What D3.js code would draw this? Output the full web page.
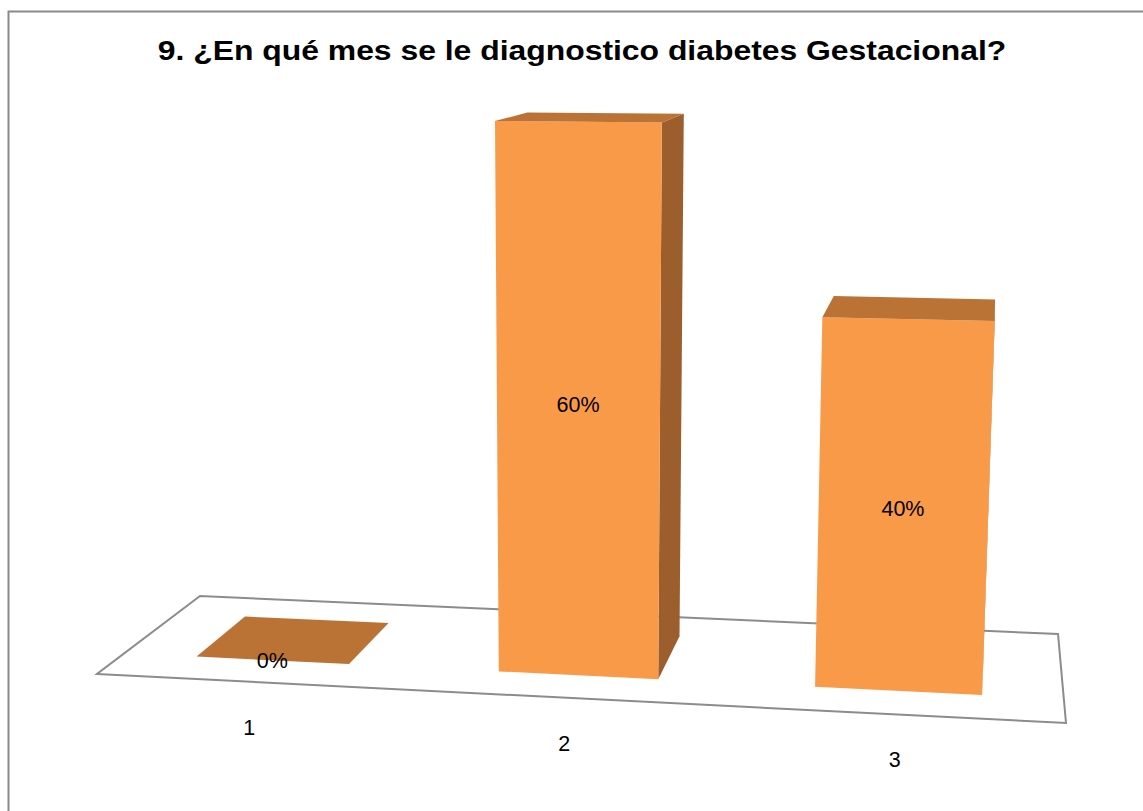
<!DOCTYPE html>
<html>
<head>
<meta charset="utf-8">
<script src="https://cdn.jsdelivr.net/npm/d3@7"></script>
<style>
  html, body { margin: 0; padding: 0; background: #fff; }
  svg { display: block; }
</style>
</head>
<body>
<svg id="chart" width="1143" height="811"></svg>
<script>
// ---- data ----
const title = "9. ¿En qué mes se le diagnostico diabetes Gestacional?";
const categories = ["1", "2", "3"];
const values = [0, 60, 40];            // percent
const valueLabels = ["0%", "60%", "40%"];

// ---- view (3D perspective of the plot box: u = category axis, w = depth, h = value height) ----
const VIEW = {
  ax: 895.84, bx: 128.75, px: -42.74, cx: 97,
  ay: -0.62,  by: -1.28,  py: -929.0, cy: 674,
  g: -0.06863, hw: 0.12873, q: -0.07355
};
function project(u, w, h) {
  const d = VIEW.g * u + VIEW.hw * w + VIEW.q * h + 1;
  return [
    (VIEW.ax * u + VIEW.bx * w + VIEW.px * h + VIEW.cx) / d,
    (VIEW.ay * u + VIEW.by * w + VIEW.py * h + VIEW.cy) / d
  ];
}

const svg = d3.select("#chart");

// outer border
svg.append("rect")
  .attr("x", 8.5).attr("y", 11.5)
  .attr("width", 1143).attr("height", 811)
  .attr("fill", "none").attr("stroke", "#8a8a8a").attr("stroke-width", 2);

// title
svg.append("text")
  .attr("transform", "translate(582,60) scale(1.19,1)")
  .attr("text-anchor", "middle")
  .attr("font-family", "'Liberation Sans', Arial, sans-serif")
  .attr("font-weight", "bold")
  .attr("font-size", 26.8)
  .attr("fill", "#000")
  .text(title);

// scales
const xScale = d3.scaleBand().domain(categories).range([0, 1])
  .paddingInner(0.49).paddingOuter(0.245);
const hScale = d3.scaleLinear().domain([0, 100]).range([0, 1]);
const depth = [0.245, 0.755];

const line = d3.line();
const poly = pts => line(pts.map(p => project(p[0], p[1], p[2]))) + "Z";

// floor
svg.append("path")
  .attr("d", poly([[0, 0, 0], [1, 0, 0], [1, 1, 0], [0, 1, 0]]))
  .attr("fill", "#fff").attr("stroke", "#8c8c8c").attr("stroke-width", 2)
  .attr("stroke-linejoin", "miter");

// bars
const data = categories.map((c, i) => ({ cat: c, value: values[i], label: valueLabels[i] }));
const bars = svg.append("g").selectAll("g").data(data).join("g");

bars.each(function (d) {
  const g = d3.select(this);
  const u0 = xScale(d.cat), u1 = u0 + xScale.bandwidth();
  const [w0, w1] = depth;
  const h = hScale(d.value);
  if (h > 0) {
    // right side
    g.append("path")
      .attr("d", poly([[u1, w0, 0], [u1, w1, 0], [u1, w1, h], [u1, w0, h]]))
      .attr("fill", "#9C5E2C");
    // front
    g.append("path")
      .attr("d", poly([[u0, w0, 0], [u1, w0, 0], [u1, w0, h], [u0, w0, h]]))
      .attr("fill", "#F99A49");
  }
  // top
  g.append("path")
    .attr("d", poly([[u0, w0, h], [u1, w0, h], [u1, w1, h], [u0, w1, h]]))
    .attr("fill", "#BA7235");
});

// value labels
bars.append("text")
  .attr("transform", d => {
    const uc = xScale(d.cat) + xScale.bandwidth() / 2;
    const p = project(uc, depth[0], hScale(d.value) / 2);
    return `translate(${p[0]},${p[1]})`;
  })
  .attr("text-anchor", "middle")
  .attr("dy", "0.36em")
  .attr("font-family", "'Liberation Sans', Arial, sans-serif")
  .attr("font-size", 21.5)
  .attr("fill", "#000")
  .text(d => d.label);

// category labels
svg.append("g").selectAll("text").data(categories).join("text")
  .attr("transform", c => {
    const p = project(xScale(c) + xScale.bandwidth() / 2, 0, 0);
    return `translate(${p[0]},${p[1] + 53})`;
  })
  .attr("text-anchor", "middle")
  .attr("font-family", "'Liberation Sans', Arial, sans-serif")
  .attr("font-size", 21.5)
  .attr("fill", "#000")
  .text(c => c);
</script>
</body>
</html>
